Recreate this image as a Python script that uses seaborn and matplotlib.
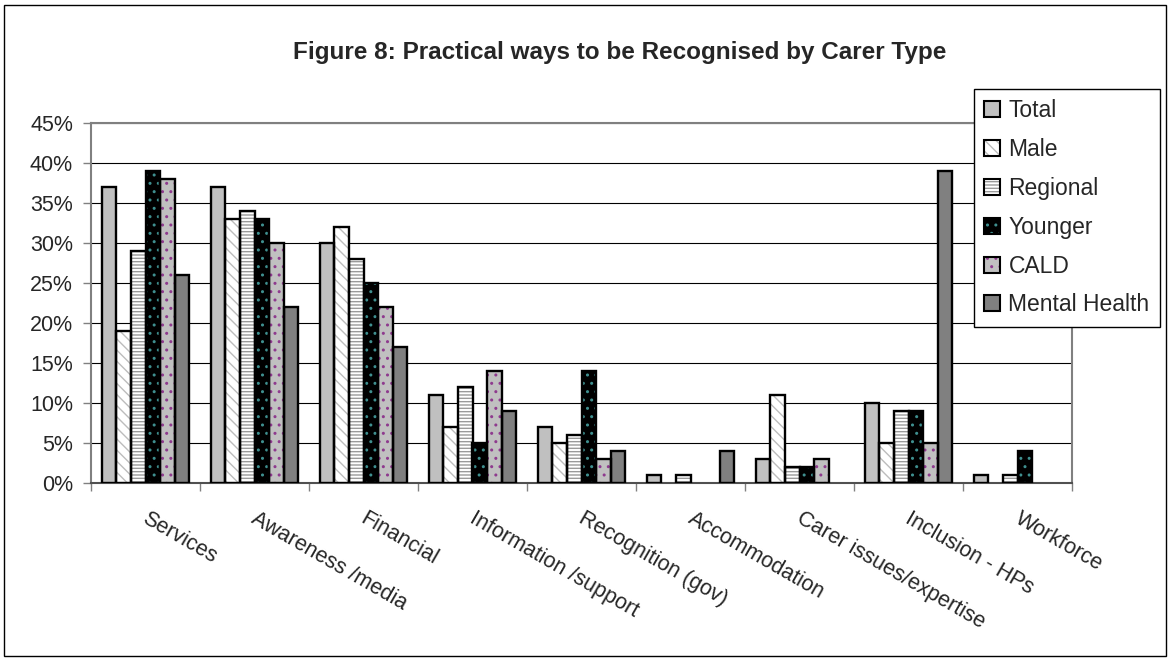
import pandas as pd
import matplotlib
matplotlib.use("Agg")
import matplotlib.pyplot as plt
from matplotlib.patches import Rectangle, Patch
from matplotlib.transforms import ScaledTranslation
from matplotlib.ticker import FuncFormatter, FixedLocator
import seaborn as sns

# ---- data (percent of respondents) ----
categories = ["Services", "Awareness /media", "Financial", "Information /support",
              "Recognition (gov)", "Accommodation", "Carer issues/expertise",
              "Inclusion - HPs", "Workforce"]
carer_types = ["Total", "Male", "Regional", "Younger", "CALD", "Mental Health"]

total         = [37, 37, 30, 11, 7, 1, 3, 10, 1]
male          = [19, 33, 32, 7, 5, 0, 11, 5, 0]
regional      = [29, 34, 28, 12, 6, 1, 2, 9, 1]
younger       = [39, 33, 25, 5, 14, 0, 2, 9, 4]
cald          = [38, 30, 22, 14, 3, 0, 3, 5, 0]
mental_health = [26, 22, 17, 9, 4, 4, 0, 39, 0]

y_ticks = [0, 5, 10, 15, 20, 25, 30, 35, 40, 45]
title = "Figure 8: Practical ways to be Recognised by Carer Type"

series = [total, male, regional, younger, cald, mental_health]
df = pd.DataFrame({
    "category": [c for s in series for c in categories],
    "carer": [t for t, s in zip(carer_types, series) for _ in s],
    "value": [v for s in series for v in s],
})

# fill colour, hatch pattern, hatch colour for each carer type
styles = {
    "Total":         ("#C0C0C0", None, "#C0C0C0"),
    "Male":          ("#FFFFFF", "\\\\\\", "#BDBDBD"),
    "Regional":      ("#FFFFFF", "-----", "#9A9A9A"),
    "Younger":       ("#000000", "..", "#3F8F8F"),
    "CALD":          ("#C0C0C0", "..", "#8E3A8E"),
    "Mental Health": ("#808080", None, "#808080"),
}

sns.set_style("white")
plt.rcParams["font.family"] = ["Liberation Sans", "DejaVu Sans"]
plt.rcParams["hatch.linewidth"] = 1.0

W, H = 1172, 660
fig = plt.figure(figsize=(W / 100, H / 100), dpi=100)
ax = fig.add_axes([91 / W, 1 - 483 / H, (1072 - 91) / W, (483 - 123) / H])

sns.barplot(data=df, x="category", y="value", hue="carer",
            order=categories, hue_order=carer_types,
            palette=[styles[t][0] for t in carer_types],
            width=0.8, gap=0, saturation=1, errorbar=None,
            legend=False, ax=ax)

EDGE_LW = 1.7
for level, container in zip(carer_types, ax.containers):
    face, hatch, hcol = styles[level]
    for bar in container:
        bar.set_facecolor(face)
        bar.set_edgecolor(hcol)
        bar.set_linewidth(0)
        if hatch:
            bar.set_hatch(hatch)
        if bar.get_height() > 0:
            ax.add_patch(Rectangle((bar.get_x(), bar.get_y()), bar.get_width(),
                                   bar.get_height(), fill=False,
                                   edgecolor="black", linewidth=EDGE_LW, zorder=3))

# axes styling
ax.set_ylim(0, 45)
ax.set_xlim(-0.5, len(categories) - 0.5)
ax.yaxis.set_major_locator(FixedLocator(y_ticks))
ax.yaxis.set_major_formatter(FuncFormatter(lambda v, _: f"{v:.0f}%"))
ax.yaxis.grid(True, color="black", linewidth=0.8)
ax.set_axisbelow(True)
ax.set_xlabel("")
ax.set_ylabel("")

for side in ("left", "top", "right"):
    ax.spines[side].set_color("#808080")
    ax.spines[side].set_linewidth(1.5)
ax.spines["bottom"].set_color("#505050")
ax.spines["bottom"].set_linewidth(1.5)

ax.tick_params(axis="y", direction="out", length=6, width=1, color="#808080",
               pad=7, labelsize=15.5, left=True)
ax.set_xticks(range(len(categories)))
ax.set_xticklabels(categories, rotation=-30, ha="left", va="top",
                   rotation_mode="anchor", fontsize=15.5)
ax.tick_params(axis="x", which="major", length=0, pad=18)
ax.xaxis.set_minor_locator(FixedLocator([i + 0.5 for i in range(-1, len(categories))]))
ax.tick_params(axis="x", which="minor", direction="out", length=6, width=1,
               color="#808080", bottom=True)
shift = ScaledTranslation(4 / 100, 0, fig.dpi_scale_trans)
for lab in ax.get_xticklabels():
    lab.set_transform(lab.get_transform() + shift)

# legend with hatched swatches outlined in black
handles = []
for level in carer_types:
    face, hatch, hcol = styles[level]
    fillp = Patch(facecolor=face, edgecolor=hcol, linewidth=0, hatch=hatch)
    outline = Patch(facecolor="none", edgecolor="black", linewidth=1.5)
    handles.append((fillp, outline))
leg = fig.legend(handles, carer_types, loc="upper left",
                 bbox_to_anchor=(974 / W, 1 - 89 / H), bbox_transform=fig.transFigure,
                 fontsize=16.5, frameon=True, fancybox=False, framealpha=1,
                 edgecolor="black", handlelength=0.7, handleheight=0.7,
                 handletextpad=0.35, labelspacing=0.69, borderpad=0.45,
                 borderaxespad=0)
leg.get_frame().set_linewidth(1.0)

fig.text(620 / W, 1 - 52 / H, title, ha="center", va="center",
         fontsize=17.5, fontweight="bold")

# chart-area border
fig.add_artist(Rectangle((4 / W, 4 / H), (1166 - 4) / W, (655 - 4) / H,
                         transform=fig.transFigure, fill=False,
                         edgecolor="black", linewidth=1.0))

fig.savefig("out.png", dpi=100)
